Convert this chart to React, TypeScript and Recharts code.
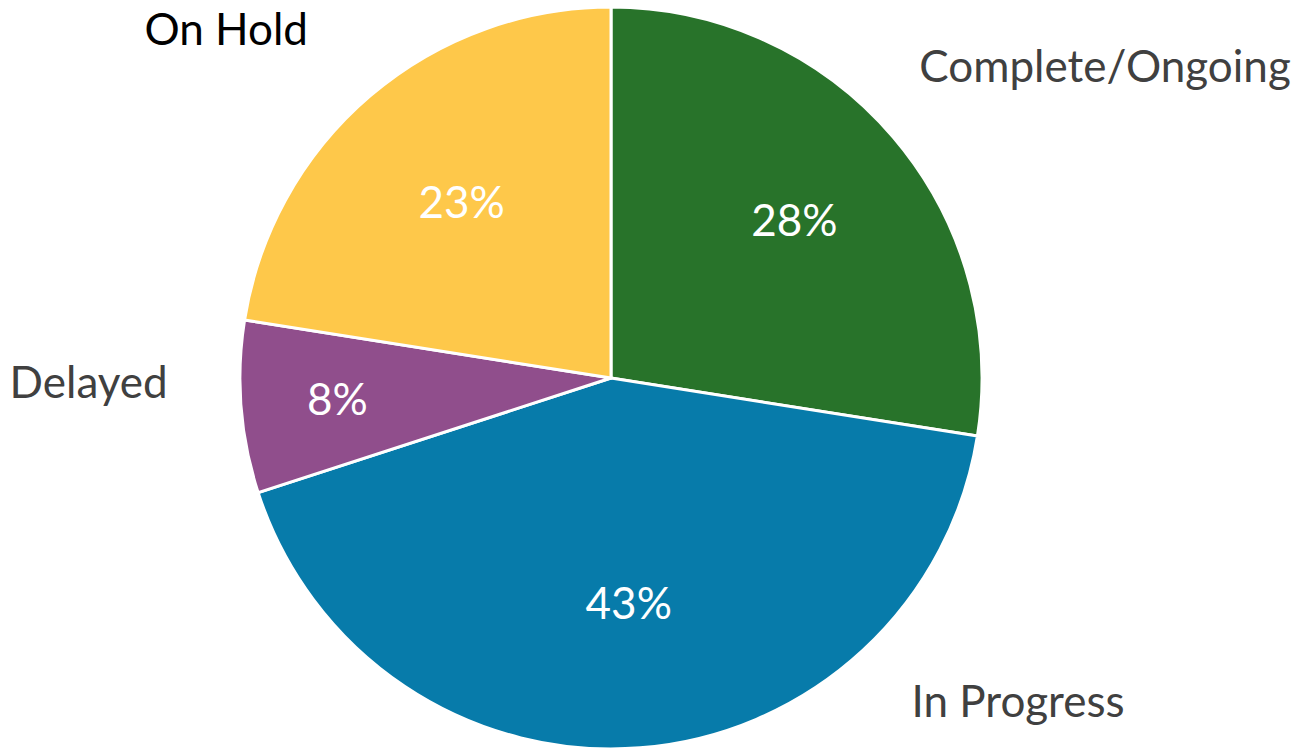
import { Cell, Pie, PieChart } from "recharts";

// Status share of projects (percent)
const statuses = ["Complete/Ongoing", "In Progress", "Delayed", "On Hold"];
const shares = [27.5, 42.5, 7.5, 22.5];
const sliceColors = ["#28732A", "#077BAA", "#904E8C", "#FEC84A"];
const nameColors = ["#404040", "#404040", "#404040", "#000000"];

const data = statuses.map((name, i) => ({ name, value: shares[i] }));

// where the percent sits along the slice's mid-angle (fraction of radius)
const innerRadiusFactor = [0.65, 0.61, 0.74, 0.62];
// category names placed around the pie: clockwise deg from 12 o'clock, distance in radii
const nameLayout = [
  { angle: 59.1, dist: 1.552 },
  { angle: 129.8, dist: 1.428 },
  { angle: 267.8, dist: 1.409 },
  { angle: 310.9, dist: 1.372 },
];

const FONT = "Lato, 'Open Sans', sans-serif";
const RADIAN = Math.PI / 180;

function SliceLabel(props: any) {
  const cx = Number(props.cx);
  const cy = Number(props.cy);
  const r = Number(props.outerRadius);
  const i = props.index as number;
  const mid = Number(props.midAngle);

  const ir = r * innerRadiusFactor[i];
  const px = cx + ir * Math.cos(-mid * RADIAN);
  const py = cy + ir * Math.sin(-mid * RADIAN);

  const lay = nameLayout[i];
  const nx = cx + r * lay.dist * Math.sin(lay.angle * RADIAN);
  const ny = cy - r * lay.dist * Math.cos(lay.angle * RADIAN);

  return (
    <g>
      <text x={px} y={py} dy={15} textAnchor="middle" fill="#ffffff" fontSize={44} fontFamily={FONT}>
        {`${Math.round(props.value)}%`}
      </text>
      <text x={nx} y={ny} textAnchor="middle" fill={nameColors[i]} fontSize={44} fontFamily={FONT}>
        {props.name}
      </text>
    </g>
  );
}

export default function App() {
  return (
    <div style={{ position: "fixed", left: 0, top: 0, width: 1297, height: 749, background: "#fff" }}>
      <PieChart width={1297} height={749} margin={{ top: 0, right: 0, bottom: 0, left: 0 }}>
        <Pie
          data={data}
          dataKey="value"
          nameKey="name"
          cx={611}
          cy={378}
          outerRadius={371}
          startAngle={90}
          endAngle={-270}
          stroke="#ffffff"
          strokeWidth={3}
          label={SliceLabel}
          labelLine={false}
          isAnimationActive={false}
        >
          {data.map((d, i) => (
            <Cell key={d.name} fill={sliceColors[i]} />
          ))}
        </Pie>
      </PieChart>
    </div>
  );
}
